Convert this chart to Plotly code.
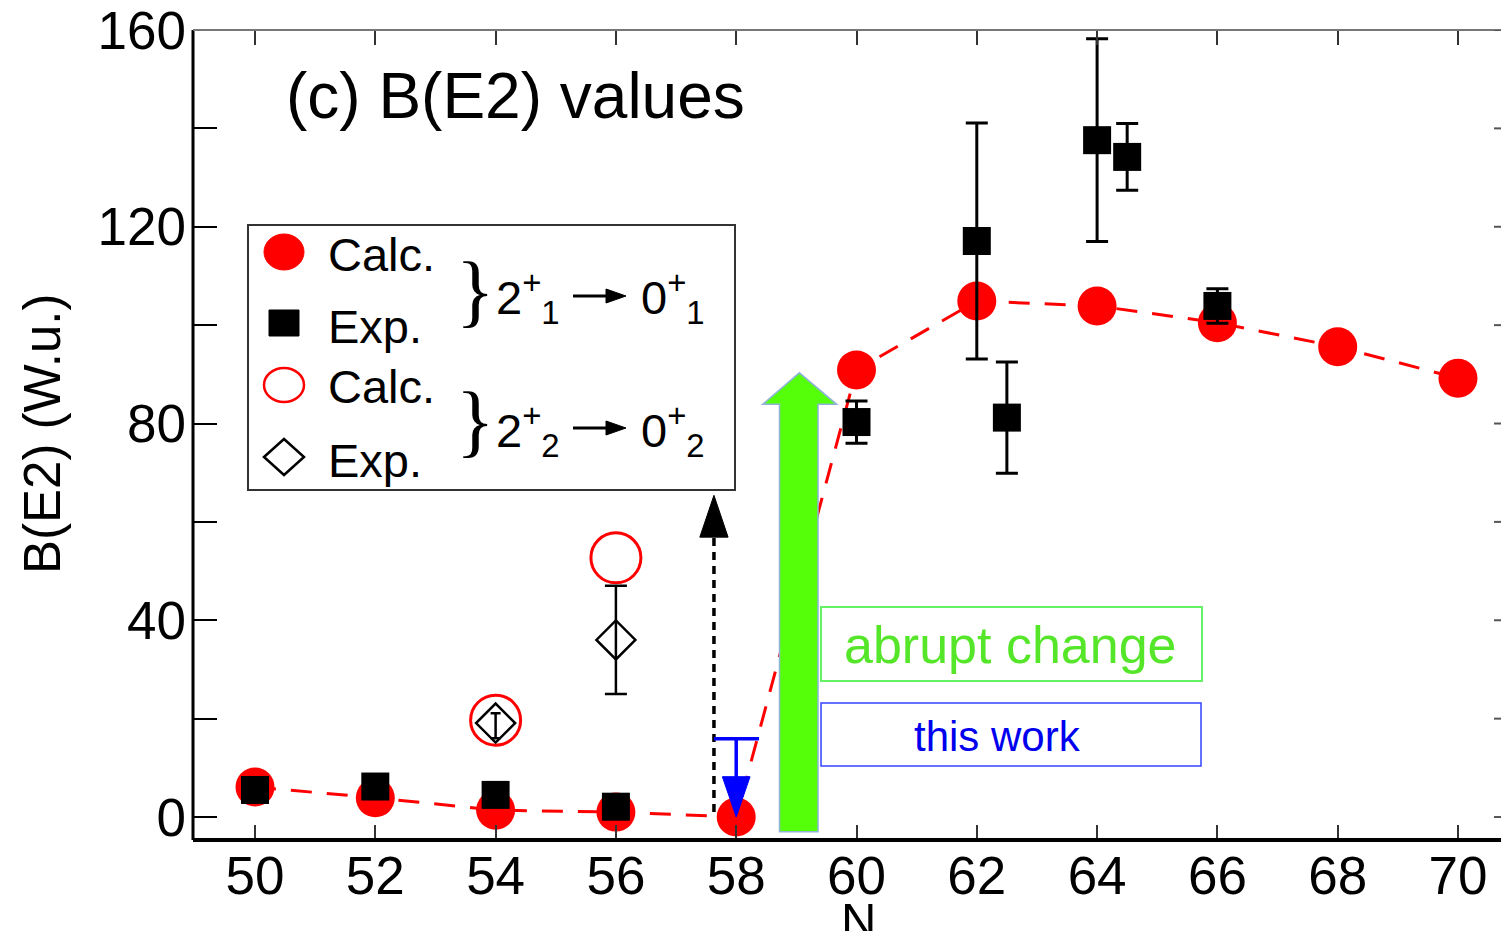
import plotly.graph_objects as go

# ---------------- data: B(E2) in W.u. versus neutron number N ----------------
n_calc_21 = [50, 52, 54, 56, 58, 60, 62, 64, 66, 68, 70]
be2_calc_21 = [6.1, 3.9, 1.4, 1.0, 0.0, 90.9, 104.9, 103.9, 100.5, 95.6, 89.2]

n_exp_21 = [50, 52, 54, 56, 60, 62, 62.5, 64, 64.5, 66]
be2_exp_21 = [5.5, 6.2, 4.5, 2.1, 80.3, 117.1, 81.2, 137.6, 134.2, 103.9]
err_exp_21 = [0, 0, 0, 0, 4.3, 24.0, 11.3, 20.6, 6.8, 3.5]

n_calc_22 = [54, 56]
be2_calc_22 = [19.7, 52.7]

n_exp_22 = [54, 56]
be2_exp_22 = [19.1, 36.0]
err_exp_22_plus = [2.0, 11.0]
err_exp_22_minus = [3.1, 11.0]

# upper limit at N = 58 (this work)
n_limit = 58
be2_limit = 15.9

# dotted arrow at N = 58 pointing to the 2+2 -> 0+2 value
n_arrow = 57.63
be2_arrow = 65.4

x_ticks = [50, 52, 54, 56, 58, 60, 62, 64, 66, 68, 70]
y_ticks = [0, 20, 40, 60, 80, 100, 120, 140, 160]
y_tick_text = ["0", "", "40", "", "80", "", "120", "", "160"]

# ---------------- layout geometry (pixels) ----------------
W, H = 1502, 931
L, R, T, B = 193, 1, 30, 91
PW, PH = W - L - R, H - T - B
FONT = "Liberation Sans, Arial, Helvetica, sans-serif"
SERIF = "Liberation Serif, Times New Roman, serif"


def fx(px):
    return (px - L) / PW


def fy(py):
    return (H - B - py) / PH


fig = go.Figure()

# calculated 2+1 -> 0+1
fig.add_trace(go.Scatter(
    x=n_calc_21, y=be2_calc_21, mode="lines+markers",
    line=dict(color="#ff0000", width=3, dash="21px,15px"),
    marker=dict(symbol="circle", size=39, color="#ff0000"),
    cliponaxis=False))

# experimental 2+1 -> 0+1
fig.add_trace(go.Scatter(
    x=n_exp_21, y=be2_exp_21, mode="markers",
    marker=dict(symbol="square", size=28, color="black"),
    error_y=dict(type="data", array=err_exp_21, color="black",
                 thickness=3, width=11),
    cliponaxis=False))

# calculated 2+2 -> 0+2
fig.add_trace(go.Scatter(
    x=n_calc_22, y=be2_calc_22, mode="markers",
    marker=dict(symbol="circle-open", size=50, color="#ff0000",
                line=dict(width=3))))

# experimental 2+2 -> 0+2
for i, cap in enumerate([5, 11]):
    fig.add_trace(go.Scatter(
        x=[n_exp_22[i]], y=[be2_exp_22[i]], mode="markers",
        marker=dict(symbol="diamond-open", size=30, color="black",
                    line=dict(width=2.5)),
        error_y=dict(type="data", symmetric=False,
                     array=[err_exp_22_plus[i]],
                     arrayminus=[err_exp_22_minus[i]],
                     color="black", thickness=2.5, width=cap)))

shapes = []

# axis spines
shapes.append(dict(type="line", xref="paper", yref="paper", x0=0, x1=0, y0=0, y1=1,
                   line=dict(color="black", width=3), layer="above"))
shapes.append(dict(type="line", xref="paper", yref="paper", x0=0, x1=1, y0=0, y1=0,
                   line=dict(color="black", width=4), layer="above"))
shapes.append(dict(type="line", xref="paper", yref="paper", x0=0, x1=1, y0=1, y1=1,
                   line=dict(color="#777777", width=2), layer="above"))
# right-hand y ticks
for v in y_ticks:
    shapes.append(dict(type="line", xref="paper", yref="y", x0=fx(1494), x1=1,
                       y0=v, y1=v, line=dict(color="#555555", width=2)))

# green "abrupt change" arrow
g_x0, g_x1 = 58.72, 59.36      # shaft
g_h0, g_h1 = 58.44, 59.67      # head base
g_tip_x, g_tip_y, g_base_y, g_bot = 59.05, 90.3, 83.9, -3.0
green_path = (f"M {g_x0},{g_bot} L {g_x1},{g_bot} L {g_x1},{g_base_y} "
              f"L {g_h1},{g_base_y} L {g_tip_x},{g_tip_y} L {g_h0},{g_base_y} "
              f"L {g_x0},{g_base_y} Z")
shapes.append(dict(type="path", xref="x", yref="y", path=green_path,
                   fillcolor="#55ff0a", line=dict(color="#8fb4d6", width=1.5),
                   layer="above"))

# black dotted arrow
shapes.append(dict(type="line", xref="x", yref="y", x0=n_arrow, x1=n_arrow,
                   y0=1.0, y1=be2_arrow - 8.5,
                   line=dict(color="black", width=3.5, dash="8px,6px"), layer="above"))
shapes.append(dict(type="path", xref="x", yref="y",
                   path=(f"M {n_arrow - 0.235},{be2_arrow - 8.5} L {n_arrow + 0.235},{be2_arrow - 8.5} "
                         f"L {n_arrow},{be2_arrow} Z"),
                   fillcolor="black", line=dict(color="black", width=1), layer="above"))

# blue upper limit at N = 58
shapes.append(dict(type="line", xref="x", yref="y", x0=n_limit - 0.37, x1=n_limit + 0.38,
                   y0=be2_limit, y1=be2_limit,
                   line=dict(color="#0000ff", width=3.5), layer="above"))
shapes.append(dict(type="line", xref="x", yref="y", x0=n_limit, x1=n_limit,
                   y0=be2_limit, y1=7.5,
                   line=dict(color="#0000ff", width=3.5), layer="above"))
shapes.append(dict(type="path", xref="x", yref="y",
                   path=f"M {n_limit - 0.23},8.2 L {n_limit + 0.23},8.2 L {n_limit},0 Z",
                   fillcolor="#0000ff", line=dict(color="#0000ff", width=1), layer="above"))

# text boxes
shapes.append(dict(type="rect", xref="paper", yref="paper",
                   x0=fx(821), x1=fx(1202), y0=fy(681), y1=fy(607),
                   line=dict(color="#66f066", width=2), layer="above"))
shapes.append(dict(type="rect", xref="paper", yref="paper",
                   x0=fx(821), x1=fx(1201), y0=fy(766), y1=fy(703),
                   line=dict(color="#3344ff", width=1.5), layer="above"))

# legend frame
shapes.append(dict(type="rect", xref="paper", yref="paper",
                   x0=fx(248), x1=fx(735), y0=fy(490), y1=fy(225),
                   fillcolor="white", line=dict(color="#333333", width=2), layer="above"))

# legend symbols
lx = fx(284)
shapes.append(dict(type="circle", xref="paper", yref="paper", xsizemode="pixel",
                   ysizemode="pixel", xanchor=lx, yanchor=fy(252),
                   x0=-20, x1=20, y0=-18, y1=18,
                   fillcolor="#ff0000", line=dict(color="#ff0000", width=1), layer="above"))
shapes.append(dict(type="rect", xref="paper", yref="paper", xsizemode="pixel",
                   ysizemode="pixel", xanchor=lx, yanchor=fy(323),
                   x0=-15, x1=15, y0=-13, y1=13,
                   fillcolor="black", line=dict(color="black", width=1), layer="above"))
shapes.append(dict(type="circle", xref="paper", yref="paper", xsizemode="pixel",
                   ysizemode="pixel", xanchor=lx, yanchor=fy(385),
                   x0=-20, x1=20, y0=-17, y1=17,
                   line=dict(color="#ff0000", width=2.5), layer="above"))
shapes.append(dict(type="path", xref="paper", yref="paper", xsizemode="pixel",
                   ysizemode="pixel", xanchor=lx, yanchor=fy(457),
                   path="M -20,0 L 0,18 L 20,0 L 0,-18 Z",
                   line=dict(color="black", width=2.5), layer="above"))

# legend transition arrows
for ay in (296, 428):
    shapes.append(dict(type="line", xref="paper", yref="paper",
                       x0=fx(573), x1=fx(610), y0=fy(ay), y1=fy(ay),
                       line=dict(color="black", width=3), layer="above"))
    shapes.append(dict(type="path", xref="paper", yref="paper",
                       path=(f"M {fx(606)},{fy(ay - 7)} L {fx(626)},{fy(ay)} "
                             f"L {fx(606)},{fy(ay + 7)} Z"),
                       fillcolor="black", line=dict(color="black", width=1), layer="above"))

annotations = []


def add_text(text, px, py, size, color="black", xanchor="left", family=FONT, angle=0):
    annotations.append(dict(text=text, xref="paper", yref="paper", x=fx(px), y=fy(py),
                            xanchor=xanchor, yanchor="middle", showarrow=False,
                            textangle=angle,
                            font=dict(family=family, size=size, color=color)))


add_text("(c) B(E2) values", 284, 96, 64)
add_text("B(E2) (W.u.)", 42, 434, 51, xanchor="center", angle=-90)
add_text("N", 858, 920, 49, xanchor="center")

add_text("Calc.", 326, 254, 47)
add_text("Exp.", 326, 326, 47)
add_text("Calc.", 326, 386, 47)
add_text("Exp.", 326, 460, 47)

add_text("}", 475, 290, 80, xanchor="center", family=SERIF)
add_text("}", 475, 420, 80, xanchor="center", family=SERIF)

add_text("2<sup>+</sup><sub>1</sub>", 494, 298, 47)
add_text("0<sup>+</sup><sub>1</sub>", 639, 298, 47)
add_text("2<sup>+</sup><sub>2</sub>", 494, 430, 47)
add_text("0<sup>+</sup><sub>2</sub>", 639, 430, 47)

add_text("abrupt change", 1010, 645, 52, color="#55e62a", xanchor="center")
add_text("this work", 998, 736, 42, color="#0000ee", xanchor="center")

fig.update_layout(
    width=W, height=H,
    margin=dict(l=L, r=R, t=T, b=B, autoexpand=False),
    paper_bgcolor="white", plot_bgcolor="white",
    showlegend=False,
    font=dict(family=FONT, color="black"),
    shapes=shapes,
    annotations=annotations,
    xaxis=dict(range=[48.969, 70.715], tickvals=x_ticks, ticks="inside", ticklen=15,
               tickwidth=2, tickcolor="#333333", mirror="ticks", showline=False,
               showgrid=False, zeroline=False, automargin=False,
               tickfont=dict(family=FONT, size=53, color="black")),
    yaxis=dict(range=[-4.67, 160], tickvals=y_ticks, ticktext=y_tick_text,
               ticks="inside", ticklen=24, tickwidth=2, tickcolor="black",
               showline=False, showgrid=False, zeroline=False, automargin=False,
               ticklabelstandoff=6,
               tickfont=dict(family=FONT, size=53, color="black")),
)

fig.write_html("out.html")
